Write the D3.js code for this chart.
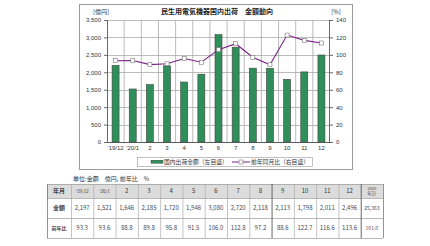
<!DOCTYPE html>
<html>
<head>
<meta charset="utf-8">
<script src="https://cdn.jsdelivr.net/npm/d3@7"></script>
<style>
  body { margin: 0; background: #fff; }
  svg { display: block; font-family: "Noto Sans CJK JP", "Noto Sans", sans-serif; }
</style>
</head>
<body>
<svg id="chart" width="430" height="246"></svg>
<script>
// data
const months = ["'19/12", "'20/1", "2", "3", "4", "5", "6", "7", "8", "9", "10", "11", "12"];
const amounts = [2197, 1521, 1646, 2185, 1720, 1946, 3080, 2720, 2118, 2113, 1798, 2011, 2496];
const yoy = [93.3, 93.6, 88.8, 89.8, 95.8, 91.5, 106.0, 112.8, 97.2, 88.6, 122.7, 116.6, 113.6];
const leftTicks = [0, 500, 1000, 1500, 2000, 2500, 3000, 3500];
const rightTicks = [0, 20, 40, 60, 80, 100, 120, 140];
const totalAmount = 25363;
const totalYoy = 101.0;

const svg = d3.select("#chart");
const txt = "#333";

// chart frame
svg.append("rect").attr("x", 79.5).attr("y", 4.5).attr("width", 273).attr("height", 165)
    .attr("fill", "#fff").attr("stroke", "#999").attr("stroke-width", 1);

const x = d3.scaleBand().domain(months).range([107, 330]);
const yL = d3.scaleLinear().domain([0, 3500]).range([142, 20]);
const yR = d3.scaleLinear().domain([0, 140]).range([142, 20]);

let plot = svg.append("g");

// grid
plot.selectAll(".hg").data(leftTicks).join("line")
    .attr("x1", x.range()[0]).attr("x2", x.range()[1])
    .attr("y1", d => Math.round(yL(d)) + 0.5).attr("y2", d => Math.round(yL(d)) + 0.5)
    .attr("stroke", "#aaa").attr("stroke-width", 0.8);
plot.selectAll(".vg").data(months.slice(1)).join("line")
    .attr("x1", d => x(d)).attr("x2", d => x(d))
    .attr("y1", yL(3500)).attr("y2", yL(0))
    .attr("stroke", "#aaa").attr("stroke-width", 0.8);

// bars
plot.selectAll(".bar").data(amounts).join("rect")
    .attr("x", (d, i) => x(months[i]) + x.bandwidth() / 2 - 3.5)
    .attr("width", 7)
    .attr("y", d => yL(d))
    .attr("height", d => yL(0) - yL(d))
    .attr("fill", "#2f8f5b").attr("stroke", "#444").attr("stroke-width", 0.6);

// axes
let axL = svg.append("g").attr("transform", "translate(107,0)")
    .call(d3.axisLeft(yL).tickValues(leftTicks).tickSize(3).tickFormat(d3.format(",")));
let axR = svg.append("g").attr("transform", "translate(330,0)")
    .call(d3.axisRight(yR).tickValues(rightTicks).tickSize(3));
let axB = svg.append("g").attr("transform", "translate(0,142)")
    .call(d3.axisBottom(x).tickSize(0).tickPadding(4));
[axL, axR, axB].forEach(a => {
    a.selectAll("path").attr("stroke", "#444").attr("stroke-width", 0.8);
    a.selectAll("line").attr("stroke", "#444").attr("stroke-width", 0.8);
    a.selectAll("text").attr("font-size", 6).attr("fill", txt).attr("font-family", null);
});
axL.select("path").attr("d", "M0.5,20V142.5");
axR.select("path").attr("d", "M-0.5,20V142.5");

// line series
const line = d3.line().x((d, i) => x(months[i]) + x.bandwidth() / 2).y(d => yR(d));
svg.append("path").datum(yoy).attr("d", line)
    .attr("fill", "none").attr("stroke", "#7b1f86").attr("stroke-width", 1.1);
svg.selectAll(".mk").data(yoy).join("rect")
    .attr("x", (d, i) => x(months[i]) + x.bandwidth() / 2 - 2)
    .attr("y", d => yR(d) - 2)
    .attr("width", 4).attr("height", 4)
    .attr("fill", "#fff").attr("stroke", "#777").attr("stroke-width", 0.6);

// titles
svg.append("text").attr("x", 217).attr("y", 14).attr("text-anchor", "middle")
    .attr("font-size", 7).attr("font-weight", "bold").attr("fill", "#222")
    .text("民生用電気機器国内出荷　金額動向");
svg.append("text").attr("x", 101).attr("y", 14).attr("text-anchor", "middle")
    .attr("font-size", 6).attr("fill", txt).text("[億円]");
svg.append("text").attr("x", 336).attr("y", 14).attr("text-anchor", "middle")
    .attr("font-size", 6).attr("fill", txt).text("[%]");

// legend
let lg = svg.append("g");
lg.append("rect").attr("x", 137.5).attr("y", 157.5).attr("width", 175).attr("height", 9)
    .attr("fill", "#fff").attr("stroke", "#999").attr("stroke-width", 0.6);
lg.append("rect").attr("x", 151).attr("y", 160.2).attr("width", 12).attr("height", 3)
    .attr("fill", "#2f8f5b").attr("stroke", "#333").attr("stroke-width", 0.4);
lg.append("text").attr("x", 164).attr("y", 164.2).attr("font-size", 5.8).attr("fill", txt)
    .text("国内出荷金額（左目盛）");
lg.append("line").attr("x1", 232).attr("x2", 250).attr("y1", 162).attr("y2", 162)
    .attr("stroke", "#7b1f86").attr("stroke-width", 1);
lg.append("rect").attr("x", 239).attr("y", 160).attr("width", 4).attr("height", 4)
    .attr("fill", "#fff").attr("stroke", "#777").attr("stroke-width", 0.6);
lg.append("text").attr("x", 251).attr("y", 164.2).attr("font-size", 5.8).attr("fill", txt)
    .text("前年同月比（右目盛）");

// table
svg.append("text").attr("x", 73).attr("y", 181).attr("font-size", 6).attr("fill", txt)
    .text("単位:金額　億円, 前年比　%");

const colX = [47, 71];
for (let i = 1; i <= 14; i++) colX.push(71 + i * (312 / 14));
const rowY = [184, 198, 218, 238];

const cols = months.concat(["total"]);
const rows = [
    { label: "年月", vals: cols, fill: "#dcdcdc" },
    { label: "金額", vals: amounts.map(d3.format(",")).concat([d3.format(",")(totalAmount)]), fill: "#fff" },
    { label: "前年比", vals: yoy.map(d3.format(".1f")).concat([d3.format(".1f")(totalYoy)]), fill: "#fff" }
];

let tbl = svg.append("g");
rows.forEach((r, ri) => {
    tbl.append("rect").attr("x", colX[0]).attr("y", rowY[ri])
        .attr("width", colX[15] - colX[0]).attr("height", rowY[ri + 1] - rowY[ri])
        .attr("fill", r.fill);
    let cy = (rowY[ri] + rowY[ri + 1]) / 2;
    tbl.append("text").attr("x", (colX[0] + colX[1]) / 2).attr("y", cy + 2)
        .attr("text-anchor", "middle").attr("font-size", ri == 2 ? 5 : 6)
        .attr("font-weight", "bold").attr("fill", "#444").text(r.label);
    r.vals.forEach((v, ci) => {
        let cx = (colX[ci + 1] + colX[ci + 2]) / 2;
        if (ri == 0 && v == "total") {
            tbl.append("text").attr("x", cx).attr("y", cy - 1).attr("text-anchor", "middle")
                .attr("font-size", 4).attr("fill", "#444").text("2020");
            tbl.append("text").attr("x", cx).attr("y", cy + 4).attr("text-anchor", "middle")
                .attr("font-size", 4.5).attr("fill", "#444").text("年計");
            return;
        }
        let small = ri == 0 && ci < 2;
        tbl.append("text").attr("x", cx).attr("y", cy + 2).attr("text-anchor", "middle")
            .attr("font-size", small ? 4.5 : (ci == 13 ? 5 : 6))
            .attr("fill", ri == 0 ? "#333" : "#3a4a5a").text(v);
    });
});
// grid lines of table
tbl.selectAll(".rl").data(rowY).join("line")
    .attr("x1", colX[0]).attr("x2", colX[15])
    .attr("y1", d => d + 0.5).attr("y2", d => d + 0.5)
    .attr("stroke", "#999").attr("stroke-width", 0.7);
tbl.selectAll(".cl").data(colX).join("line")
    .attr("x1", d => d + 0.5).attr("x2", d => d + 0.5)
    .attr("y1", rowY[0]).attr("y2", rowY[3])
    .attr("stroke", (d, i) => (i == 0 || i == 10 || i == 14 || i == 15) ? "#666" : "#aaa")
    .attr("stroke-width", (d, i) => (i == 10 || i == 14) ? 1 : 0.7);
</script>
</body>
</html>
